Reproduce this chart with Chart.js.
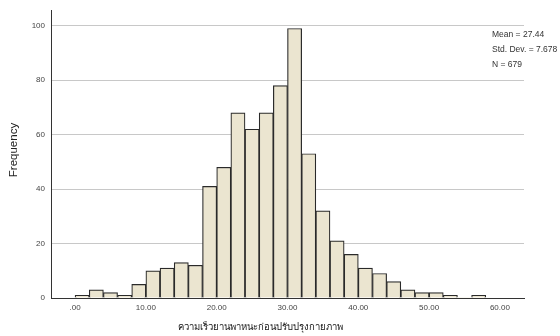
<!DOCTYPE html>
<html>
<head>
<meta charset="utf-8">
<script src="https://cdn.jsdelivr.net/npm/chart.js@4"></script>
<style>
  html, body { margin: 0; padding: 0; background: #fff; }
</style>
</head>
<body>
<canvas id="histChart" width="560" height="336"></canvas>
<script>
// bins are 2 wide, starting at these values
var binStarts = [0, 2, 4, 6, 8, 10, 12, 14, 16, 18, 20, 22, 24, 26, 28, 30, 32, 34, 36, 38, 40, 42, 44, 46, 48, 50, 52, 54, 56];
var frequencies = [1, 3, 2, 1, 5, 10, 11, 13, 12, 41, 48, 68, 62, 68, 78, 99, 53, 32, 21, 16, 11, 9, 6, 3, 2, 2, 1, 0, 1];
var xTickValues = [0, 10, 20, 30, 40, 50, 60];
var xTickLabels = ['.00', '10.00', '20.00', '30.00', '40.00', '50.00', '60.00'];
var yTickValues = [0, 20, 40, 60, 80, 100];
var statsLines = ['Mean = 27.44', 'Std. Dev. = 7.678', 'N = 679'];
var xTitle = 'ความเร็วยานพาหนะก่อนปรับปรุงกายภาพ';
var yTitle = 'Frequency';

document.addEventListener('DOMContentLoaded', function () {
    var points = binStarts.map(function (s, i) {
        return { x: s + 1, y: frequencies[i] };
    });

    // stats box and axis titles, placed like the SPSS output
    var extraText = {
        id: 'extraText',
        afterDraw: function (chart) {
            var ctx = chart.ctx;
            ctx.save();
            ctx.font = '8.5px "Liberation Sans"';
            ctx.fillStyle = '#333';
            ctx.textBaseline = 'middle';
            ctx.textAlign = 'left';
            statsLines.forEach(function (t, i) {
                ctx.fillText(t, 492, 35 + i * 15);
            });

            ctx.fillStyle = '#111';
            ctx.textAlign = 'center';
            ctx.font = '9.5px "Noto Sans"';
            ctx.fillText(xTitle, 260, 327);

            ctx.translate(14, 150);
            ctx.rotate(-Math.PI / 2);
            ctx.font = '11.5px "Liberation Sans"';
            ctx.fillStyle = '#222';
            ctx.fillText(yTitle, 0, 0);
            ctx.restore();
        }
    };

    var ctx = document.getElementById('histChart').getContext('2d');
    new Chart(ctx, {
        type: 'bar',
        data: {
            datasets: [{
                data: points,
                backgroundColor: '#ebe5d0',
                borderColor: '#2a2a2a',
                borderWidth: function (c) { return c.raw && c.raw.y === 0 ? 0 : 1.2; },
                barPercentage: 1,
                categoryPercentage: 1
            }]
        },
        options: {
            responsive: false,
            animation: false,
            layout: { padding: { top: 8, right: 36, left: 0, bottom: 0 } },
            plugins: {
                legend: { display: false },
                tooltip: { enabled: false }
            },
            scales: {
                x: {
                    type: 'linear',
                    offset: false,
                    min: -3.4,
                    max: 63.4,
                    afterBuildTicks: function (scale) {
                        scale.ticks = xTickValues.map(function (v) { return { value: v }; });
                    },
                    afterFit: function (scale) { scale.height = 38; },
                    grid: { display: false, drawTicks: false },
                    border: { color: '#333', width: 1 },
                    ticks: {
                        autoSkip: false,
                        maxRotation: 0,
                        padding: 5,
                        color: '#444',
                        font: { family: 'Liberation Sans', size: 8 },
                        callback: function (v, i) { return xTickLabels[i]; }
                    }
                },
                y: {
                    min: 0,
                    max: 105.5,
                    afterBuildTicks: function (scale) {
                        scale.ticks = yTickValues.map(function (v) { return { value: v }; });
                    },
                    afterFit: function (scale) { scale.width = 51; },
                    grid: {
                        color: function (c) { return c.tick && c.tick.value === 0 ? 'rgba(0,0,0,0)' : '#c8c8c8'; },
                        drawTicks: false
                    },
                    border: { color: '#333', width: 1 },
                    ticks: {
                        padding: 6,
                        color: '#444',
                        font: { family: 'Liberation Sans', size: 8 }
                    }
                }
            }
        },
        plugins: [extraText]
    });
});
</script>
</body>
</html>
